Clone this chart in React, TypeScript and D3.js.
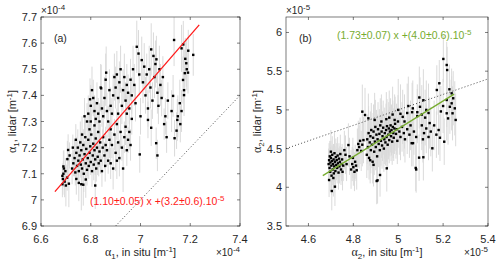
import React from "react";
import * as d3 from "d3";

const W = 500;
const H = 266;

// ---- panel (a): alpha1, units 1e-4 ----
const xDomainA = [6.6, 7.4];
const yDomainA = [6.9, 7.7];
const xTicksA = [6.6, 6.8, 7, 7.2, 7.4];
const yTicksA = [6.9, 7, 7.1, 7.2, 7.3, 7.4, 7.5, 7.6, 7.7];
const fitA = { slope: 1.1, intercept: -0.29, from: 6.656, to: 7.236 };
// [in situ, lidar, lidar error]
const pointsA = [
  [6.686,7.060,0.05],[6.688,7.080,0.06],[6.690,7.100,0.05],[6.692,7.120,0.07],[6.686,7.092,0.04],[6.695,7.070,0.06],
  [6.698,7.110,0.05],[6.700,7.055,0.08],[6.705,7.085,0.05],[6.690,7.128,0.06],[6.706,7.156,0.07],[6.709,7.191,0.06],
  [6.715,7.170,0.05],[6.712,7.062,0.09],
  [6.752,7.065,0.07],[6.762,7.060,0.1],[6.770,7.058,0.08],[6.818,7.055,0.09],[6.742,7.080,0.06],[6.780,7.078,0.07],
  [6.725,7.120,0.06],[6.730,7.140,0.05],[6.735,7.160,0.07],[6.738,7.105,0.05],[6.742,7.180,0.06],[6.745,7.130,0.05],
  [6.748,7.200,0.07],[6.750,7.150,0.06],[6.752,7.110,0.05],[6.755,7.170,0.06],[6.758,7.220,0.08],[6.760,7.135,0.05],
  [6.762,7.190,0.07],[6.765,7.120,0.06],[6.768,7.155,0.05],[6.770,7.210,0.06],[6.772,7.100,0.07],[6.775,7.175,0.05],
  [6.778,7.240,0.08],[6.780,7.140,0.06],[6.782,7.195,0.05],[6.785,7.115,0.06],[6.788,7.160,0.07],[6.790,7.230,0.06],
  [6.792,7.130,0.05],[6.795,7.180,0.06],[6.798,7.205,0.07],[6.800,7.145,0.05],[6.802,7.250,0.08],[6.805,7.110,0.06],
  [6.808,7.170,0.05],[6.810,7.215,0.07],[6.812,7.135,0.06],[6.815,7.190,0.05],[6.818,7.155,0.06],[6.820,7.235,0.07],
  [6.822,7.120,0.05],[6.825,7.200,0.06],[6.828,7.165,0.07],[6.830,7.260,0.08],[6.832,7.140,0.05],[6.835,7.185,0.06],
  [6.838,7.220,0.07],[6.840,7.150,0.05],[6.845,7.110,0.06],[6.848,7.200,0.07],[6.850,7.240,0.06],[6.855,7.170,0.05],
  [6.858,7.130,0.06],[6.860,7.210,0.07],[6.740,7.230,0.06],[6.728,7.200,0.05],[6.765,7.250,0.07],[6.795,7.270,0.06],
  [6.815,7.285,0.08],[6.785,7.300,0.07],
  [6.865,7.190,0.06],[6.870,7.150,0.05],[6.875,7.230,0.07],[6.880,7.270,0.06],[6.885,7.210,0.05],[6.890,7.120,0.08],
  [6.895,7.250,0.06],[6.900,7.180,0.07],[6.905,7.290,0.06],[6.910,7.220,0.05],[6.915,7.160,0.07],[6.920,7.260,0.06],
  [6.925,7.200,0.05],[6.930,7.120,0.09],[6.935,7.240,0.06],[6.940,7.280,0.07],[6.945,7.190,0.06],[6.950,7.230,0.05],
  [6.955,7.260,0.07],[6.960,7.210,0.06],[6.880,7.140,0.06],[6.905,7.150,0.07],
  [6.790,7.330,0.07],[6.800,7.360,0.08],[6.805,7.420,0.09],[6.810,7.390,0.07],[6.815,7.340,0.06],[6.820,7.310,0.07],
  [6.825,7.370,0.08],[6.830,7.330,0.06],[6.835,7.300,0.07],[6.840,7.430,0.09],[6.845,7.350,0.07],[6.850,7.320,0.06],
  [6.855,7.390,0.08],[6.860,7.460,0.1],[6.862,7.487,0.1],[6.865,7.340,0.07],[6.870,7.300,0.06],[6.875,7.420,0.08],
  [6.880,7.360,0.07],[6.885,7.330,0.06],[6.890,7.400,0.08],[6.842,7.427,0.09],[6.800,7.300,0.06],[6.775,7.320,0.07],
  [6.797,7.385,0.08],
  [6.900,7.430,0.08],[6.905,7.480,0.09],[6.910,7.390,0.07],[6.915,7.450,0.08],[6.920,7.500,0.09],[6.925,7.360,0.07],
  [6.930,7.420,0.08],[6.935,7.470,0.09],[6.940,7.380,0.07],[6.945,7.440,0.08],[6.950,7.410,0.07],[6.955,7.350,0.06],
  [6.960,7.460,0.08],[6.965,7.400,0.07],[6.970,7.500,0.09],[6.975,7.440,0.08],[6.980,7.370,0.07],[6.985,7.586,0.1],
  [6.992,7.560,0.09],[6.995,7.480,0.08],[6.910,7.330,0.06],[6.895,7.470,0.09],[6.945,7.330,0.07],[6.965,7.310,0.06],
  [7.005,7.535,0.09],[7.010,7.450,0.08],[7.015,7.510,0.09],[7.020,7.400,0.07],[7.025,7.480,0.08],[7.030,7.350,0.07],
  [7.035,7.500,0.09],[7.040,7.430,0.08],[7.043,7.576,0.1],[7.048,7.380,0.07],[7.052,7.551,0.09],[7.056,7.470,0.08],
  [7.060,7.520,0.09],[7.064,7.538,0.09],[7.068,7.410,0.08],[7.072,7.360,0.07],[7.076,7.500,0.09],[7.080,7.440,0.08],
  [7.085,7.390,0.07],[7.090,7.470,0.08],[7.000,7.320,0.07],[7.030,7.306,0.07],[7.043,7.276,0.07],
  [6.997,7.174,0.07],[7.063,7.217,0.06],[7.137,7.236,0.07],[7.148,7.306,0.08],[7.105,7.240,0.06],[7.100,7.320,0.07],
  [7.095,7.290,0.06],[7.110,7.380,0.07],[7.125,7.340,0.08],[7.068,7.170,0.06],
  [7.135,7.612,0.1],[7.165,7.580,0.09],[7.172,7.595,0.09],[7.192,7.571,0.08],[7.212,7.555,0.08],[7.180,7.540,0.08],
  [7.184,7.523,0.09],[7.191,7.487,0.08],[7.178,7.485,0.09],[7.171,7.459,0.09],[7.186,7.500,0.08],[7.175,7.420,0.08],
  [7.175,7.401,0.08],[7.158,7.370,0.09],[7.131,7.398,0.08],[7.165,7.340,0.08],[7.150,7.320,0.08],[7.160,7.290,0.07],
  [7.145,7.265,0.07],
];

// ---- panel (b): alpha2, units 1e-5 ----
const xDomainB = [4.5, 5.4];
const yDomainB = [3.5, 6.2];
const xTicksB = [4.6, 4.8, 5, 5.2, 5.4];
const yTicksB = [3.5, 4, 4.5, 5, 5.5, 6];
const fitB = { slope: 1.8, intercept: -4.245, from: 4.664, to: 5.249 };
const pointsB = [
  [4.690,4.300,0.2],[4.692,4.350,0.22],[4.694,4.250,0.18],[4.695,4.400,0.2],[4.697,4.200,0.25],[4.698,4.320,0.2],
  [4.700,4.380,0.22],[4.702,4.280,0.18],[4.703,4.150,0.25],[4.705,4.340,0.2],[4.706,4.420,0.24],[4.708,4.230,0.2],
  [4.710,4.300,0.22],[4.712,4.360,0.2],[4.713,4.180,0.25],[4.715,4.270,0.2],[4.716,4.440,0.26],[4.718,4.330,0.2],
  [4.720,4.210,0.22],[4.722,4.390,0.24],[4.724,4.290,0.2],[4.726,4.350,0.22],[4.728,4.250,0.2],[4.730,4.410,0.24],
  [4.732,4.310,0.2],[4.734,4.190,0.22],[4.736,4.370,0.2],[4.738,4.270,0.22],[4.740,4.330,0.2],[4.742,4.430,0.25],
  [4.745,4.230,0.2],[4.748,4.300,0.22],[4.750,4.360,0.2],[4.752,4.200,0.24],[4.755,4.280,0.2],[4.704,3.952,0.25],
  [4.718,4.008,0.25],[4.692,4.094,0.22],[4.711,4.120,0.24],[4.700,4.460,0.28],
  [4.778,4.546,0.28],[4.765,4.420,0.25],[4.770,4.300,0.22],[4.790,4.230,0.25],[4.795,4.300,0.22],[4.800,4.260,0.24],
  [4.805,4.200,0.25],[4.808,4.330,0.22],[4.812,4.280,0.2],[4.815,4.220,0.25],[4.818,4.480,0.28],[4.822,4.560,0.3],
  [4.826,4.520,0.28],[4.830,4.600,0.3],[4.835,4.470,0.26],[4.840,4.550,0.28],[4.845,4.610,0.3],[4.783,4.400,0.24],
  [4.798,4.380,0.26],[4.760,4.480,0.25],[4.840,4.977,0.35],[4.852,4.934,0.35],[4.867,4.891,0.32],
  [4.860,4.420,0.3],[4.862,4.620,0.32],[4.865,4.520,0.3],[4.868,4.700,0.35],[4.870,4.380,0.28],[4.873,4.580,0.3],
  [4.876,4.660,0.32],[4.878,4.480,0.3],[4.880,4.740,0.35],[4.883,4.550,0.3],[4.886,4.330,0.28],[4.888,4.640,0.32],
  [4.890,4.720,0.35],[4.893,4.460,0.3],[4.896,4.590,0.32],[4.898,4.780,0.35],[4.900,4.520,0.3],[4.903,4.680,0.32],
  [4.906,4.400,0.3],[4.908,4.620,0.32],[4.910,4.750,0.35],[4.913,4.560,0.3],[4.916,4.690,0.32],[4.918,4.480,0.3],
  [4.920,4.800,0.35],[4.923,4.600,0.32],[4.926,4.720,0.34],[4.928,4.540,0.3],[4.930,4.660,0.32],[4.933,4.770,0.35],
  [4.936,4.500,0.3],[4.938,4.620,0.32],[4.940,4.700,0.33],[4.943,4.580,0.3],[4.946,4.740,0.34],[4.948,4.650,0.32],
  [4.950,4.790,0.35],[4.953,4.550,0.3],[4.956,4.680,0.32],[4.958,4.760,0.34],[4.960,4.610,0.3],[4.963,4.720,0.32],
  [4.966,4.800,0.35],[4.968,4.660,0.32],[4.970,4.740,0.33],[4.973,4.590,0.3],[4.976,4.780,0.34],[4.978,4.700,0.32],
  [4.980,4.640,0.3],[4.983,4.760,0.33],[4.986,4.820,0.35],[4.990,4.690,0.32],[4.993,4.750,0.33],[4.996,4.600,0.3],
  [4.904,4.081,0.3],[4.908,4.090,0.3],[4.919,4.159,0.28],[4.949,4.245,0.3],[4.890,4.290,0.28],[4.875,4.350,0.3],
  [4.925,4.850,0.35],[4.947,4.880,0.35],[4.984,4.870,0.33],[4.999,4.850,0.34],[5.028,4.850,0.35],[5.020,4.910,0.35],
  [5.010,4.950,0.38],[4.960,4.900,0.35],[4.975,4.940,0.36],[4.895,4.870,0.35],[5.000,5.000,0.4],[5.040,4.960,0.38],
  [5.005,4.720,0.3],[5.010,4.650,0.3],[5.017,4.780,0.32],[5.025,4.700,0.3],[5.030,4.620,0.3],[5.040,4.750,0.32],
  [5.050,4.680,0.3],[5.060,4.570,0.3],[5.066,4.570,0.3],[5.055,4.800,0.32],[5.070,4.720,0.3],[5.080,4.650,0.3],
  [5.093,4.383,0.3],[5.112,4.388,0.3],[5.078,4.250,0.3],[5.080,4.230,0.3],
  [5.094,5.160,0.4],[5.112,5.125,0.4],[5.097,5.040,0.38],[5.065,5.020,0.36],[5.125,5.000,0.38],[5.085,4.970,0.36],
  [5.105,4.940,0.38],[5.120,4.900,0.36],[5.135,4.960,0.38],[5.085,4.920,0.35],[5.062,4.970,0.38],[5.045,5.050,0.38],
  [5.105,4.800,0.32],[5.115,4.700,0.3],[5.125,4.760,0.32],[5.135,4.650,0.3],[5.145,4.720,0.32],[5.152,4.504,0.3],
  [5.160,4.800,0.32],[5.170,4.680,0.3],[5.180,4.740,0.32],[5.186,4.640,0.3],[5.205,4.589,0.3],[5.110,4.620,0.3],
  [5.140,4.830,0.33],
  [5.201,5.658,0.3],[5.216,5.580,0.3],[5.218,5.515,0.3],[5.183,5.344,0.3],[5.228,5.266,0.32],[5.172,5.257,0.32],
  [5.238,5.214,0.32],[5.216,5.128,0.35],[5.238,5.085,0.35],[5.230,5.040,0.35],[5.252,5.020,0.35],[5.242,4.956,0.35],
  [5.222,4.890,0.34],[5.256,4.870,0.34],[5.216,4.956,0.35],[5.245,5.150,0.35],[5.200,5.050,0.35],[5.190,4.980,0.33],
];

const font = "'Liberation Sans', Arial, Helvetica, sans-serif";
const serif = "'Liberation Serif', 'Times New Roman', serif";
const axisColor = "#262626";

type PanelProps = {
  left: number;
  right: number;
  xDomain: number[];
  yDomain: number[];
  xTicks: number[];
  yTicks: number[];
  points: number[][];
  fit: { slope: number; intercept: number; from: number; to: number };
  fitColor: string;
  tag: string;
  idx: string;
  exp: string;
  eq: { text: string; x: number; y: number };
};

const top = 17;
const bottom = 226;

function Panel(p: PanelProps) {
  const x = d3.scaleLinear().domain(p.xDomain).range([p.left, p.right]);
  const y = d3.scaleLinear().domain(p.yDomain).range([bottom, top]);
  const fmt = (v: number) => d3.format("~g")(v);
  const lo = Math.max(p.xDomain[0], p.yDomain[0]);
  const hi = Math.min(p.xDomain[1], p.yDomain[1]);
  const tl = 3;
  const clipId = "clip" + p.idx;
  return (
    <g>
      <defs>
        <clipPath id={clipId}>
          <rect x={p.left} y={top} width={p.right - p.left} height={bottom - top} />
        </clipPath>
      </defs>
      <g clipPath={`url(#${clipId})`}>
        {p.points.map((d, i) => (
          <line key={"e" + i} x1={x(d[0])} x2={x(d[0])} y1={y(d[1] - d[2])} y2={y(d[1] + d[2])}
            stroke="#dadada" strokeWidth={1} />
        ))}
        {p.points.map((d, i) => (
          <rect key={"p" + i} x={x(d[0]) - 1.2} y={y(d[1]) - 1.2} width={2.4} height={2.4} fill="#000" />
        ))}
        <line x1={x(lo)} y1={y(lo)} x2={x(hi)} y2={y(hi)} stroke="#333" strokeWidth={0.9} strokeDasharray="1 2.2" />
        <line x1={x(p.fit.from)} y1={y(p.fit.slope * p.fit.from + p.fit.intercept)}
          x2={x(p.fit.to)} y2={y(p.fit.slope * p.fit.to + p.fit.intercept)}
          stroke={p.fitColor} strokeWidth={1.3} />
      </g>
      <rect x={p.left} y={top} width={p.right - p.left} height={bottom - top} fill="none" stroke={axisColor} strokeWidth={0.6} />
      {p.xTicks.map((t) => (
        <g key={"xt" + t}>
          <line x1={x(t)} x2={x(t)} y1={bottom} y2={bottom - tl} stroke={axisColor} strokeWidth={0.6} />
          <line x1={x(t)} x2={x(t)} y1={top} y2={top + tl} stroke={axisColor} strokeWidth={0.6} />
          <text x={x(t)} y={243} textAnchor="middle" fontSize={11} fontFamily={font} fill={axisColor}>{fmt(t)}</text>
        </g>
      ))}
      {p.yTicks.map((t) => (
        <g key={"yt" + t}>
          <line x1={p.left} x2={p.left + tl} y1={y(t)} y2={y(t)} stroke={axisColor} strokeWidth={0.6} />
          <line x1={p.right} x2={p.right - tl} y1={y(t)} y2={y(t)} stroke={axisColor} strokeWidth={0.6} />
          <text x={p.left - 4} y={y(t) + 4} textAnchor="end" fontSize={11} fontFamily={font} fill={axisColor}>{fmt(t)}</text>
        </g>
      ))}
      {/* exponent labels */}
      <text x={p.left} y={14} fontSize={10} fontFamily={font} fill={axisColor}>
        ×10<tspan dy={-4} fontSize={8}>{p.exp}</tspan>
      </text>
      <text x={p.right} y={256} textAnchor="end" fontSize={10} fontFamily={font} fill={axisColor}>
        ×10<tspan dy={-4} fontSize={8}>{p.exp}</tspan>
      </text>
      {/* axis titles */}
      <text x={(p.left + p.right) / 2} y={256} textAnchor="middle" fontSize={11} fontFamily={font} fill={axisColor}>
        <tspan fontFamily={serif} fontSize={12}>α</tspan>
        <tspan dy={3} fontSize={8}>{p.idx}</tspan>
        <tspan dy={-3}>, in situ [m</tspan>
        <tspan dy={-4} fontSize={8}>-1</tspan>
        <tspan dy={4}>]</tspan>
      </text>
      <text transform={`translate(${p.left - 25},${(top + bottom) / 2}) rotate(-90)`} textAnchor="middle"
        fontSize={11} fontFamily={font} fill={axisColor}>
        <tspan fontFamily={serif} fontSize={12}>α</tspan>
        <tspan dy={3} fontSize={8}>{p.idx}</tspan>
        <tspan dy={-3}>, lidar [m</tspan>
        <tspan dy={-4} fontSize={8}>-1</tspan>
        <tspan dy={4}>]</tspan>
      </text>
      <text x={p.left + 13} y={42} fontSize={10.5} fontFamily={font} fill={axisColor}>{p.tag}</text>
      <text x={p.eq.x} y={p.eq.y} fontSize={10.5} fontFamily={font} fill={p.fitColor}>
        {p.eq.text}
        <tspan dy={-4} fontSize={8}>-5</tspan>
      </text>
    </g>
  );
}

export default function App() {
  return (
    <svg width={W} height={H} style={{ position: "absolute", left: 0, top: 0, background: "#fff" }}>
      <rect width={W} height={H} fill="#fff" />
      <Panel left={41} right={240} xDomain={xDomainA} yDomain={yDomainA} xTicks={xTicksA} yTicks={yTicksA}
        points={pointsA} fit={fitA} fitColor="#ff1a1a" tag="(a)" idx="1" exp="-4"
        eq={{ text: "(1.10±0.05) x +(3.2±0.6).10", x: 90, y: 205 }} />
      <Panel left={286} right={488} xDomain={xDomainB} yDomain={yDomainB} xTicks={xTicksB} yTicks={yTicksB}
        points={pointsB} fit={fitB} fitColor="#77ac30" tag="(b)" idx="2" exp="-5"
        eq={{ text: "(1.73±0.07) x +(4.0±0.6).10", x: 337, y: 39 }} />
    </svg>
  );
}
